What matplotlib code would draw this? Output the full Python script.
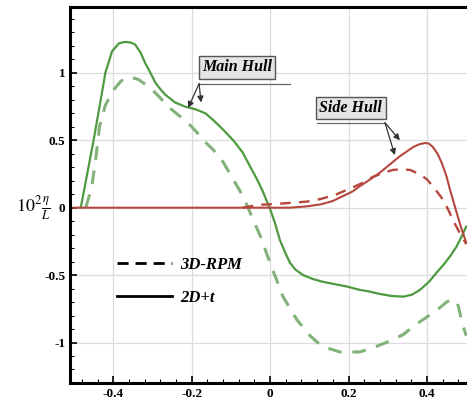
import numpy as np
import matplotlib
matplotlib.use('Agg')
import matplotlib.pyplot as plt
from matplotlib.ticker import MultipleLocator

# main hull, 2D+t (solid green)
main_2d_x = [-0.483, -0.48, -0.465, -0.45, -0.43, -0.42, -0.403, -0.385, -0.369, -0.355, -0.344, -0.33,
             -0.318, -0.305, -0.293, -0.28, -0.268, -0.255, -0.242, -0.217, -0.19, -0.165, -0.145,
             -0.12, -0.094, -0.07, -0.05, -0.035, -0.02, 0.0, 0.012, 0.025, 0.038, 0.051, 0.065,
             0.084, 0.11, 0.135, 0.165, 0.196, 0.229, 0.25, 0.28, 0.31, 0.34, 0.362, 0.382, 0.405,
             0.425, 0.443, 0.459, 0.475, 0.489, 0.50]
main_2d_y = [0.00, 0.04, 0.27, 0.50, 0.83, 1.00, 1.16, 1.22, 1.23, 1.225, 1.21, 1.15,
             1.07, 1.00, 0.93, 0.88, 0.84, 0.81, 0.78, 0.75, 0.73, 0.70, 0.65,
             0.58, 0.50, 0.41, 0.30, 0.22, 0.13, -0.01, -0.11, -0.24, -0.33, -0.41, -0.46,
             -0.50, -0.53, -0.55, -0.567, -0.585, -0.61, -0.62, -0.64, -0.655, -0.66, -0.645, -0.61, -0.55,
             -0.48, -0.42, -0.36, -0.29, -0.21, -0.14]

# main hull, 3D-RPM (dashed green)
main_3d_x = [-0.47, -0.455, -0.445, -0.435, -0.42, -0.40, -0.38, -0.357, -0.335, -0.306, -0.285,
             -0.26, -0.235, -0.21, -0.19, -0.17, -0.145, -0.12, -0.094, -0.068, -0.046, -0.025,
             0.0, 0.033, 0.068, 0.102, 0.125, 0.145, 0.178, 0.229, 0.27, 0.313, 0.34, 0.365,
             0.395, 0.425, 0.45, 0.464, 0.473, 0.48, 0.489, 0.50]
main_3d_y = [0.00, 0.15, 0.35, 0.60, 0.76, 0.87, 0.94, 0.97, 0.95, 0.89, 0.83,
             0.75, 0.69, 0.63, 0.57, 0.50, 0.43, 0.34, 0.21, 0.08, -0.07, -0.21,
             -0.41, -0.66, -0.83, -0.95, -1.01, -1.04, -1.07, -1.07, -1.03, -0.98, -0.94, -0.88,
             -0.82, -0.76, -0.70, -0.68, -0.69, -0.73, -0.85, -0.95]

# side hull, 2D+t (solid red)
side_2d_x = [-0.50, 0.05, 0.094, 0.13, 0.16, 0.185, 0.21, 0.229, 0.255, 0.28, 0.305, 0.33, 0.35,
             0.365, 0.38, 0.395, 0.405, 0.415, 0.427, 0.438, 0.45, 0.459, 0.468, 0.476, 0.484,
             0.492, 0.50]
side_2d_y = [0.00, 0.00, 0.01, 0.025, 0.05, 0.085, 0.12, 0.16, 0.21, 0.26, 0.32, 0.38, 0.42,
             0.45, 0.47, 0.48, 0.475, 0.45, 0.40, 0.33, 0.23, 0.13, 0.04, -0.04, -0.12,
             -0.19, -0.26]

# side hull, 3D-RPM (dashed red)
side_3d_x = [-0.07, -0.033, 0.025, 0.094, 0.13, 0.17, 0.21, 0.24, 0.263, 0.29, 0.313, 0.335,
             0.357, 0.38, 0.40, 0.42, 0.441, 0.455, 0.466, 0.484, 0.50]
side_3d_y = [0.00, 0.02, 0.03, 0.045, 0.065, 0.10, 0.15, 0.19, 0.23, 0.26, 0.28, 0.285,
             0.28, 0.25, 0.21, 0.14, 0.06, -0.02, -0.09, -0.19, -0.27]

green = '#4e9a40'
green_d = '#82b27a'
red = '#b5483e'

plt.rcParams['font.family'] = ['Liberation Serif', 'DejaVu Serif']
plt.rcParams['mathtext.fontset'] = 'stix'

fig = plt.figure(figsize=(4.67, 4.01), dpi=100)
ax = fig.add_axes([0.15, 0.045, 0.85, 0.938])

ax.plot(main_2d_x, main_2d_y, color=green, lw=1.6, zorder=3)
ax.plot(main_3d_x, main_3d_y, color=green_d, lw=2.2, ls=(0, (4.5, 3.5)), zorder=3)
ax.plot(side_2d_x, side_2d_y, color=red, lw=1.5, zorder=3)
ax.plot(side_3d_x, side_3d_y, color=red, lw=1.7, ls=(0, (4.5, 3.5)), zorder=3)

# legend (black samples)
ax.plot([], [], color='black', lw=2.0, ls=(0, (4, 2.5)), label='3D-RPM')
ax.plot([], [], color='black', lw=2.0, label='2D+t')
leg = ax.legend(loc='lower left', bbox_to_anchor=(0.08, 0.165), frameon=False,
                handlelength=3.3, handletextpad=0.5, labelspacing=1.0,
                prop={'style': 'italic', 'weight': 'bold', 'size': 12})

ax.set_xlim(-0.51, 0.502)
ax.set_ylim(-1.30, 1.49)
ax.xaxis.set_minor_locator(MultipleLocator(0.04))
ax.yaxis.set_minor_locator(MultipleLocator(0.1))
ax.set_xticks([-0.4, -0.2, 0, 0.2, 0.4])
ax.set_xticklabels(['-0.4', '-0.2', '0', '0.2', '0.4'])
ax.set_yticks([-1, -0.5, 0, 0.5, 1])
ax.set_yticklabels(['-1', '-0.5', '0', '0.5', '1'])
ax.tick_params(which='both', direction='in', top=False, right=False, labelsize=9.5)
ax.tick_params(which='major', length=5, width=1.2)
ax.tick_params(which='minor', length=3, width=0.8)
for lab in ax.get_xticklabels() + ax.get_yticklabels():
    lab.set_fontweight('bold')
ax.grid(True, color='#dcdcdc', lw=0.9)
for s in ['left', 'bottom', 'top']:
    ax.spines[s].set_linewidth(2.2)
ax.spines['right'].set_visible(False)

ax.text(-0.605, 0.0, r'$10^2\frac{\eta}{L}$', fontsize=13, ha='center', va='center',
        transform=ax.transData, clip_on=False)

box = dict(boxstyle='square,pad=0.2', fc='#e4e4e4', ec='#555555', lw=1.0)
arr = dict(arrowstyle='-|>', color='#333333', lw=0.9, mutation_scale=9, shrinkA=0, shrinkB=0)
ax.text(-0.084, 1.04, 'Main Hull', fontsize=11.5, style='italic', weight='bold',
        ha='center', va='center', bbox=box, zorder=5)
ax.annotate('', xy=(-0.176, 0.78), xytext=(-0.181, 0.92), arrowprops=arr, zorder=5)
ax.annotate('', xy=(-0.209, 0.74), xytext=(-0.181, 0.92), arrowprops=arr, zorder=5)
ax.plot([-0.181, 0.05], [0.92, 0.92], color='#666666', lw=0.9, zorder=4)
ax.text(0.206, 0.74, 'Side Hull', fontsize=11.5, style='italic', weight='bold',
        ha='center', va='center', bbox=box, zorder=5)
ax.annotate('', xy=(0.331, 0.50), xytext=(0.293, 0.63), arrowprops=arr, zorder=5)
ax.annotate('', xy=(0.318, 0.39), xytext=(0.293, 0.63), arrowprops=arr, zorder=5)
ax.plot([0.12, 0.293], [0.63, 0.63], color='#666666', lw=0.9, zorder=4)

fig.savefig('out.png', dpi=100)
